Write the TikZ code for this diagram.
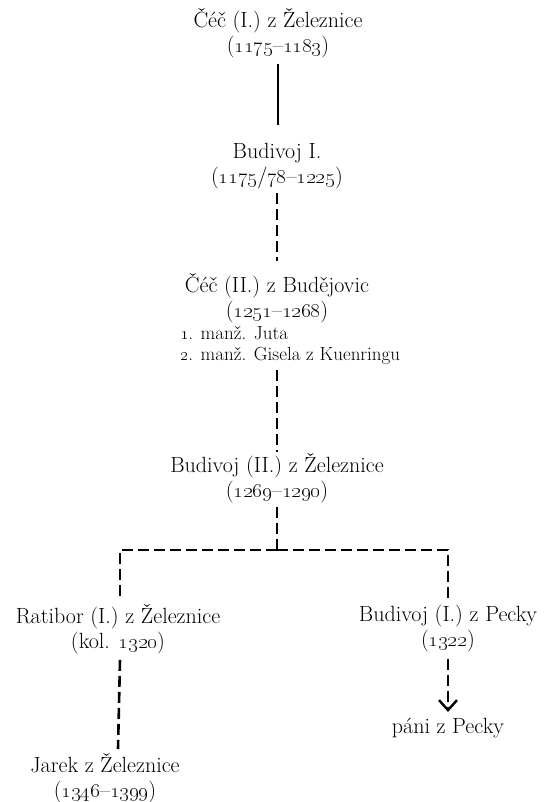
\documentclass[tikz,border=0pt]{standalone}
\usetikzlibrary{calc,arrows.meta}
\newcommand{\os}[1]{\oldstylenums{#1}}
\begin{document}
\begin{tikzpicture}[x=1pt,y=-1pt,
  person/.style={font=\fontsize{22}{25}\selectfont, align=center, inner sep=0pt},
  spouse/.style={font=\fontsize{19}{21}\selectfont, align=left, inner sep=0pt, anchor=north west},
  link/.style={line width=2.6pt},
  dlink/.style={line width=2.6pt, dash pattern=on 11pt off 5pt}]
\useasboundingbox (0,0) rectangle (545,802);
\node[person] (n1) at (278,33) {Čéč (I.) z Železnice\\(\os{1175}–\os{1183})};
\node[person] (n2) at (277,166) {Budivoj I.\\(\os{1175}/\os{78}–\os{1225})};
\node[person] (n3) at (277,298) {Čéč (II.) z Budějovic\\(\os{1251}–\os{1268})};
\node[spouse] (n3s) at (180,326) {\os{1}. manž. Juta\\\os{2}. manž. Gisela z Kuenringu};
\node[person] (n4) at (277,478) {Budivoj (II.) z Železnice\\(\os{1269}–\os{1290})};
\node[person] (rat) at (118,629) {Ratibor (I.) z Železnice\\(kol. \os{1320})};
\node[person] (bp) at (448,629) {Budivoj (I.) z Pecky\\(\os{1322})};
\node[person] (jar) at (105,778) {Jarek z Železnice\\(\os{1346}–\os{1399})};
\node[person] (pani) at (448,728) {páni z Pecky};
\coordinate (fork) at (277,550);
\draw[link] ([yshift=-6pt]n1.south) -- ([yshift=18pt]n1.south |- n2.north);
\draw[dlink] ([yshift=-4pt]n2.south -| n3.north) -- ([yshift=12pt]n3.north);
\draw[dlink] (n3.south |- n3s.south) ++(0,6) -- ([yshift=1pt]n4.north);
\draw[dlink] ([yshift=-4pt]n4.south) -- (fork);
\draw[dlink] (fork) -| ([xshift=2pt,yshift=5pt]rat.north);
\draw[dlink] (fork) -| ([yshift=5pt]bp.north);
\draw[dlink] ([xshift=2pt,yshift=-6pt]rat.south) -- ([yshift=4pt]rat.south |- jar.north);
\draw[dlink,-{Straight Barb[length=10pt,width=18pt,line width=2.4pt]}] ([yshift=-6pt]bp.south) -- ([yshift=6pt]pani.north);
\end{tikzpicture}
\end{document}
